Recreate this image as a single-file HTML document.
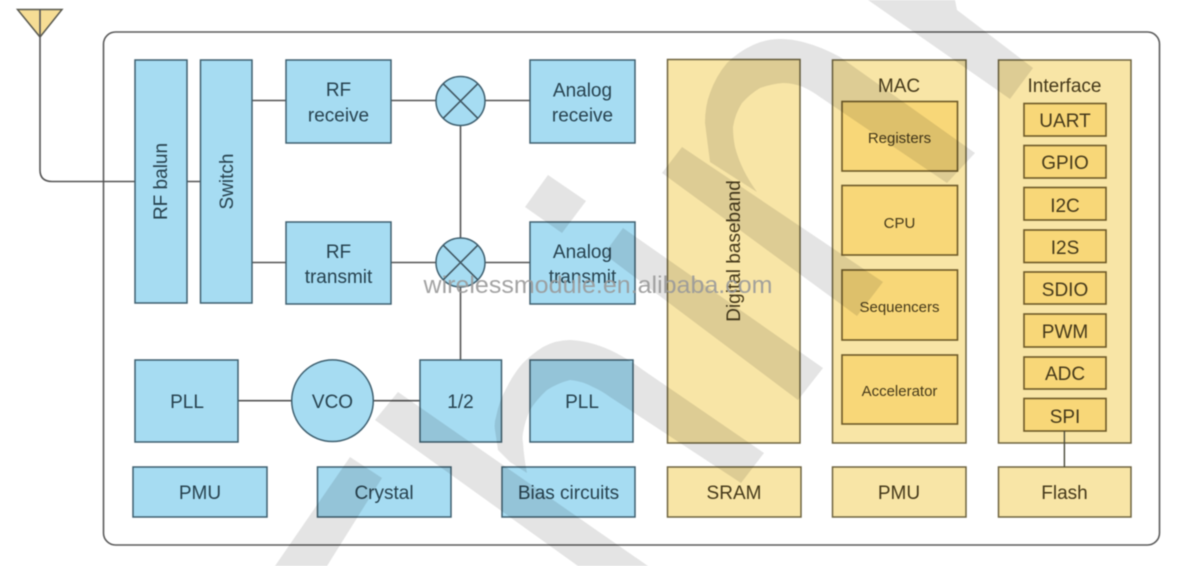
<!DOCTYPE html>
<html>
<head>
<meta charset="utf-8">
<style>
html,body{margin:0;padding:0;background:#fff;width:1194px;height:566px;overflow:hidden}
svg{display:block;position:absolute;left:0;top:0;filter:blur(0.5px)}
text{font-family:"Liberation Sans",sans-serif;font-size:19px;text-anchor:middle}
.b{fill:#a6dcf2;stroke:#3f6070;stroke-width:1.5}
.y{fill:#f8e5a6;stroke:#6e6440;stroke-width:1.5}
.o{fill:#f8d778;stroke:#6e5a28;stroke-width:1.6}
.l{stroke:#555;stroke-width:1.6;fill:none}
.tb text,text.tb{fill:#27424f}
.ty text{fill:#45391a}
.s text{font-size:15px}
</style>
</head>
<body>
<svg width="1194" height="566" viewBox="0 0 1194 566" xmlns="http://www.w3.org/2000/svg">
<rect width="1194" height="566" fill="#fff"/>
<rect x="103.5" y="32" width="1056" height="513" rx="12" ry="12" fill="none" stroke="#5c5c5c" stroke-width="1.6"/>

<!-- antenna -->
<polygon points="17.5,9.5 62,9.5 40,37" fill="#f6dd95" stroke="#5a5a50" stroke-width="1.5"/>
<path class="l" d="M40 9.5V170Q40 181.5 52 181.5H135"/>
<path class="l" d="M187 181.5H200.5M252 100.5H286M391 100.5H436M485 100.5H530M252 262.5H286M391 262.5H436M485 262.5H530M460.5 125V238M460.5 287V360M238 400.7H292M373 400.7H420"/>

<!-- blue blocks -->
<rect class="b" x="135" y="60" width="52" height="243"/>
<rect class="b" x="200.5" y="60" width="51.5" height="243"/>
<rect class="b" x="286" y="60" width="105" height="83"/>
<rect class="b" x="286" y="222" width="105" height="82"/>
<rect class="b" x="530" y="60" width="105" height="83"/>
<rect class="b" x="530" y="222" width="105" height="82"/>
<circle class="b" cx="460.5" cy="101" r="24.5"/>
<circle class="b" cx="460.5" cy="262.5" r="24.5"/>
<path stroke="#3f5560" stroke-width="1.5" d="M443.2 83.7L477.8 118.3M477.8 83.7L443.2 118.3M443.2 245.2L477.8 279.8M477.8 245.2L443.2 279.8"/>
<rect class="b" x="135" y="360" width="103" height="82"/>
<circle class="b" cx="332.5" cy="400.7" r="40.8"/>
<rect class="b" x="420" y="360" width="81.5" height="82"/>
<rect class="b" x="530" y="360" width="103" height="82"/>
<rect class="b" x="133" y="467" width="134" height="50"/>
<rect class="b" x="317.5" y="467" width="133.5" height="50"/>
<rect class="b" x="502" y="467" width="133" height="50"/>

<!-- yellow blocks -->
<rect class="y" x="667.5" y="59.5" width="132.5" height="383.5"/>
<rect class="y" x="832.5" y="60" width="133.5" height="383"/>
<rect class="y" x="998.5" y="60" width="132.5" height="383"/>
<rect class="y" x="667.5" y="467" width="133.5" height="50"/>
<rect class="y" x="832.5" y="467" width="133.5" height="50"/>
<rect class="y" x="998.5" y="467" width="132.5" height="50"/>
<rect class="o" x="842" y="101.5" width="115.5" height="69.5"/>
<rect class="o" x="842" y="185.5" width="115.5" height="69.5"/>
<rect class="o" x="842" y="270" width="115.5" height="70"/>
<rect class="o" x="842" y="355" width="115.5" height="69"/>
<rect class="o" x="1024" y="103.5" width="82" height="32.5"/>
<rect class="o" x="1024" y="145.5" width="82" height="32.5"/>
<rect class="o" x="1024" y="187.5" width="82" height="32.5"/>
<rect class="o" x="1024" y="230" width="82" height="32.5"/>
<rect class="o" x="1024" y="272" width="82" height="32"/>
<rect class="o" x="1024" y="314" width="82" height="33"/>
<rect class="o" x="1024" y="357" width="82" height="32"/>
<rect class="o" x="1024" y="398.5" width="82" height="32.5"/>
<path d="M1064.4 431V467" stroke="#4a4a3a" stroke-width="1.4"/>

<!-- labels -->
<g class="tb">
<text transform="translate(167,181.5) rotate(-90)">RF balun</text>
<text transform="translate(233,181.5) rotate(-90)">Switch</text>
<text x="338.5" y="96">RF</text><text x="338.5" y="121.7">receive</text>
<text x="338.5" y="258">RF</text><text x="338.5" y="283">transmit</text>
<text x="582.5" y="96.6">Analog</text><text x="582.5" y="121.7">receive</text>
<text x="582.5" y="258">Analog</text><text x="582.5" y="283">transmit</text>
<text x="187" y="408">PLL</text>
<text x="332.5" y="408">VCO</text>
<text x="460.5" y="408">1/2</text>
<text x="582" y="408">PLL</text>
<text x="200" y="499">PMU</text>
<text x="384" y="499">Crystal</text>
<text x="568.5" y="499">Bias circuits</text>
</g>
<g class="ty">
<text transform="translate(740,251) rotate(-90)">Digital baseband</text>
<text x="899" y="92">MAC</text>
<text x="1064.5" y="92">Interface</text>
<text x="1065" y="127">UART</text>
<text x="1065" y="169">GPIO</text>
<text x="1065" y="212">I2C</text>
<text x="1065" y="254">I2S</text>
<text x="1065" y="296">SDIO</text>
<text x="1065" y="338">PWM</text>
<text x="1065" y="380">ADC</text>
<text x="1065" y="423">SPI</text>
<text x="734" y="499">SRAM</text>
<text x="899" y="499">PMU</text>
<text x="1064.5" y="499">Flash</text>
</g>
<g class="ty s">
<text x="899.5" y="143">Registers</text>
<text x="899.5" y="228">CPU</text>
<text x="899.5" y="312">Sequencers</text>
<text x="899.5" y="396">Accelerator</text>
</g>

<!-- watermark bands -->
<g fill="#e4e4e4" style="mix-blend-mode:multiply">
<path d="M868 0H955L957 10L1033 68L1010 99Z"/>
<polygon points="548,175 586,201 562,233 525,207"/>
<polygon points="623,228 823,368 798,400 604,254"/>
<path d="M682 147L883 282L857 316L662 173Z"/>
<path d="M710 162L705 123Q705 106 710 93Q716 76 727 63Q738 52 753 45Q766 39 780 39Q792 39 803 42Q822 47 840 57L975 153L947 183L820 97Q812 91 803 87Q793 83 783 83Q771 84 760 88Q750 94 742 103Q735 114 733 127Q733 137 735 147Q741 170 757 192L735 178Z"/>
<polygon points="398,392 648,566 578,566 375,420"/>
<path d="M498 450L495 430Q494 423 496 417Q499 401 507 387Q514 373 523 363Q532 354 543 347Q556 340 570 340Q590 341 610 350Q627 358 643 370L764 453L741 483L610 397Q602 391 593 387Q582 381 570 380Q558 383 547 390Q537 399 530 410Q525 421 523 433Q522 438 523 443Q524 458 527 473L510 462Z"/>
<polygon points="350,457 382,478 327,566 275,566"/>
</g>
<text x="598" y="293" textLength="349" lengthAdjust="spacingAndGlyphs" style="font-size:24px;fill:#9a9a9a;opacity:.9">wirelessmodule.en.alibaba.com</text>
</svg>
</body>
</html>
